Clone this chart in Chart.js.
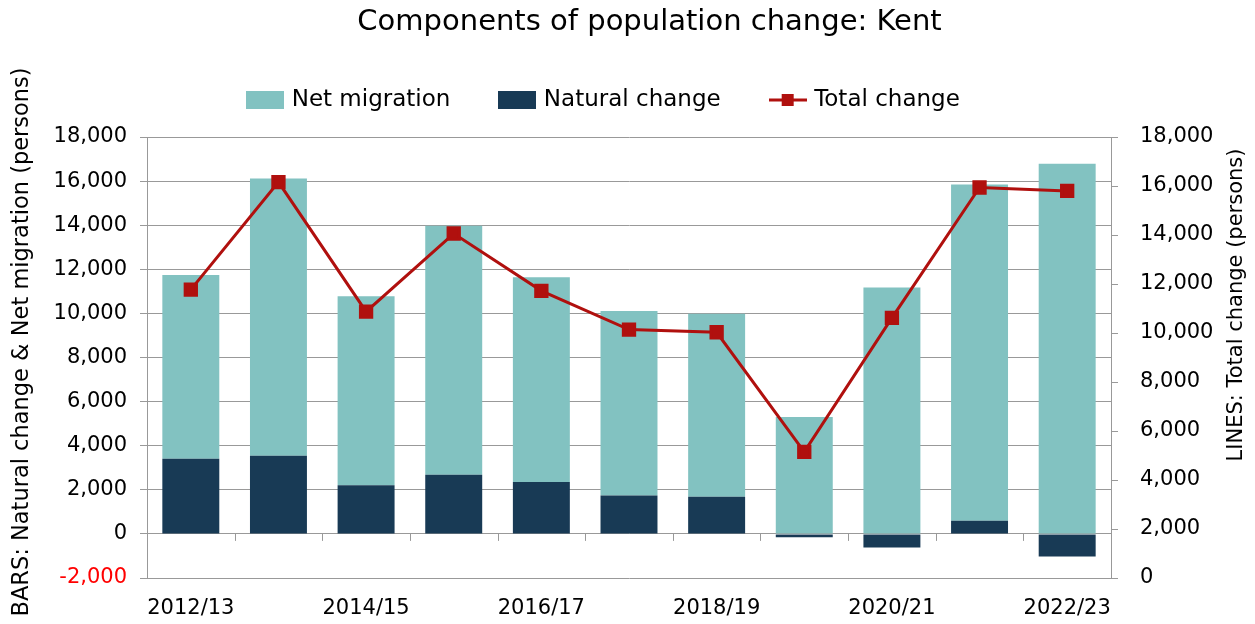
<!DOCTYPE html>
<html>
<head>
<meta charset="utf-8">
<script src="https://cdn.jsdelivr.net/npm/chart.js@4/dist/chart.umd.min.js"></script>
<style>
  html, body { margin: 0; padding: 0; background: #fff; }
  #wrap { width: 1255px; height: 624px; }
</style>
</head>
<body>
<div id="wrap"><canvas id="chart" width="1255" height="624"></canvas></div>
<script>
let years = ['2012/13', '2013/14', '2014/15', '2015/16', '2016/17', '2017/18',
             '2018/19', '2019/20', '2020/21', '2021/22', '2022/23'];
let natural_change = [3410, 3540, 2210, 2680, 2350, 1740, 1680, -150, -620, 600, -1030];
let net_migration = [8330, 12580, 8570, 11290, 9290, 8370, 8300, 5300, 11170, 15250, 16790];
let total_change = [11770, 16160, 10870, 14060, 11720, 10140, 10030, 5150, 10620, 15940, 15800];

const TEAL = '#82c2c1';
const NAVY = '#183a55';
const RED = '#b0100e';
const GRID = '#999999';
const FONT = "'DejaVu Sans', sans-serif";

// little legend swatches
let swatch = function(kind, color) {
    let c = document.createElement('canvas');
    c.width = 38; c.height = 18;
    let g = c.getContext('2d');
    if (kind === 'box') {
        g.fillStyle = color;
        g.fillRect(0, 0, 38, 18);
    } else {
        g.strokeStyle = color;
        g.lineWidth = 3;
        g.beginPath(); g.moveTo(0, 9); g.lineTo(38, 9); g.stroke();
        g.fillStyle = color;
        g.fillRect(13, 3, 12, 12);
    }
    return c;
};

// nudge title and legend sideways like the original, draw zero-line tick marks
// and the two rotated axis titles (both read bottom to top)
let extras = {
    id: 'extras',
    beforeDraw(chart) {
        chart.titleBlock.left = 44;
        chart.titleBlock.right = 1255;
        chart.legend.left = 0;
        chart.legend.right = 1210;
    },
    afterDraw(chart) {
        let ctx = chart.ctx;
        let x = chart.scales.x, y = chart.scales.y;
        let y0 = y.getPixelForValue(0);
        ctx.save();
        ctx.strokeStyle = GRID;
        ctx.lineWidth = 1;
        for (let i = 1; i < years.length; i++) {
            let px = Math.round((x.getPixelForValue(i - 1) + x.getPixelForValue(i)) / 2) + 0.5;
            ctx.beginPath(); ctx.moveTo(px, y0); ctx.lineTo(px, y0 + 7); ctx.stroke();
        }
        ctx.fillStyle = '#000';
        ctx.font = '22.5px ' + FONT;
        ctx.textAlign = 'center';
        ctx.textBaseline = 'middle';
        ctx.translate(22, 342);
        ctx.rotate(-Math.PI / 2);
        ctx.fillText('BARS: Natural change & Net migration (persons)', 0, 0);
        ctx.restore();
        ctx.save();
        ctx.fillStyle = '#000';
        ctx.font = '21px ' + FONT;
        ctx.textAlign = 'center';
        ctx.textBaseline = 'middle';
        ctx.translate(1237, 305);
        ctx.rotate(-Math.PI / 2);
        ctx.fillText('LINES: Total change (persons)', 0, 0);
        ctx.restore();
    }
};

let ctx = document.getElementById('chart').getContext('2d');
let chart = new Chart(ctx, {
    type: 'bar',
    data: {
        labels: years,
        datasets: [{
            label: 'Natural change',
            data: natural_change,
            backgroundColor: NAVY,
            barPercentage: 0.65,
            categoryPercentage: 1,
            yAxisID: 'y',
            order: 1,
        }, {
            label: 'Net migration',
            data: net_migration,
            backgroundColor: TEAL,
            barPercentage: 0.65,
            categoryPercentage: 1,
            yAxisID: 'y',
            order: 1,
        }, {
            type: 'line',
            label: 'Total change',
            data: total_change,
            borderColor: RED,
            backgroundColor: RED,
            borderWidth: 3,
            pointStyle: 'rect',
            pointRadius: 8,
            pointHoverRadius: 8,
            lineTension: 0,
            yAxisID: 'y1',
            order: 0,
        }],
    },
    options: {
        responsive: false,
        animation: false,
        layout: { padding: 0 },
        plugins: {
            title: {
                display: true,
                text: 'Components of population change: Kent',
                color: '#000',
                font: { family: FONT, size: 29, weight: 'normal', lineHeight: 1 },
                padding: { top: 7.5, bottom: 0 },
            },
            legend: {
                display: true,
                labels: {
                    color: '#000',
                    font: { family: FONT, size: 23 },
                    usePointStyle: true,
                    pointStyleWidth: 30,
                    padding: 52,
                    generateLabels: function(chart) {
                        return [
                            { text: 'Net migration', pointStyle: swatch('box', TEAL), datasetIndex: 1, lineWidth: 0, strokeStyle: 'transparent', fillStyle: TEAL },
                            { text: 'Natural change', pointStyle: swatch('box', NAVY), datasetIndex: 0, lineWidth: 0, strokeStyle: 'transparent', fillStyle: NAVY },
                            { text: 'Total change', pointStyle: swatch('line', RED), datasetIndex: 2, lineWidth: 0, strokeStyle: 'transparent', fillStyle: RED },
                        ];
                    },
                },
            },
            tooltip: { enabled: false },
        },
        scales: {
            x: {
                stacked: true,
                grid: { display: false, drawTicks: false },
                border: { display: false },
                ticks: {
                    autoSkip: false,
                    maxRotation: 0,
                    padding: 18,
                    color: '#000',
                    font: { family: FONT, size: 21 },
                    callback: (v, i) => i % 2 === 0 ? years[i] : '',
                },
                afterFit: s => { s.height = 46; },
            },
            xTop: {
                position: 'top',
                type: 'category',
                labels: years,
                grid: { display: false, drawTicks: false },
                border: { display: false },
                ticks: { display: false },
                afterFit: s => { s.height = 15.5; },
            },
            y: {
                stacked: true,
                position: 'left',
                min: -2000,
                max: 18000,
                grid: { color: GRID, lineWidth: 1, tickLength: 7 },
                border: { display: true, color: GRID, width: 1 },
                ticks: {
                    stepSize: 2000,
                    padding: 13,
                    font: { family: FONT, size: 21 },
                    color: c => c.tick.value < 0 ? '#ff0000' : '#000',
                    callback: v => v.toLocaleString('en-GB'),
                },
                afterFit: s => { s.width = 147; },
            },
            y1: {
                position: 'right',
                min: 0,
                max: 18000,
                grid: { drawOnChartArea: false, color: GRID, lineWidth: 1, tickLength: 7 },
                border: { display: true, color: GRID, width: 1 },
                ticks: {
                    stepSize: 2000,
                    padding: 22,
                    color: '#000',
                    font: { family: FONT, size: 21 },
                    callback: v => v.toLocaleString('en-GB'),
                },
                afterFit: s => { s.width = 144; },
            },
        },
    },
    plugins: [extras],
});
</script>
</body>
</html>
